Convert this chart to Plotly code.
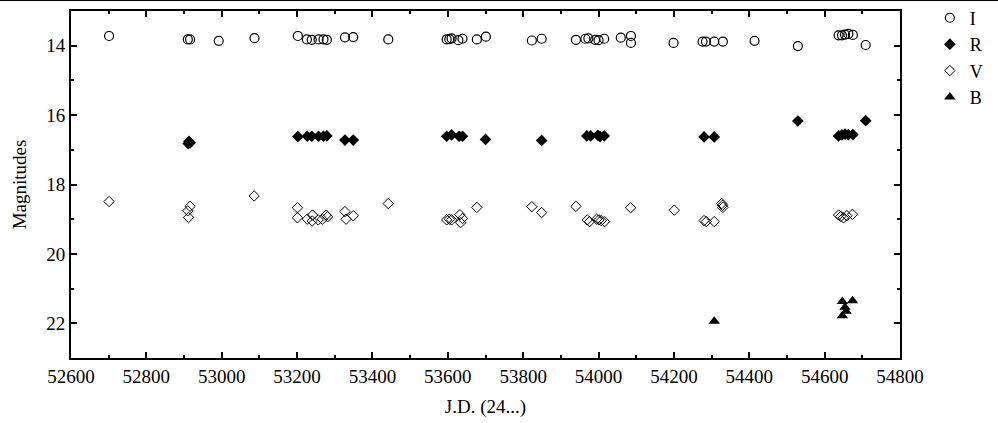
import plotly.graph_objects as go

# I band (open circles)
i_jd = [52701, 52910, 52916, 52992, 53087, 53202, 53226, 53239, 53257, 53270, 53279,
        53327, 53349, 53442, 53597, 53604, 53610, 53628, 53639, 53677, 53701,
        53823, 53849, 53940, 53965, 53973, 53991, 54000, 54015, 54059, 54086, 54086,
        54199, 54276, 54285, 54307, 54330, 54414, 54529,
        54637, 54646, 54654, 54663, 54675, 54709]
i_mag = [13.72, 13.82, 13.82, 13.86, 13.78, 13.72, 13.82, 13.83, 13.82, 13.82, 13.83,
         13.76, 13.75, 13.82, 13.82, 13.81, 13.79, 13.84, 13.80, 13.82, 13.74,
         13.85, 13.80, 13.83, 13.80, 13.79, 13.83, 13.84, 13.80, 13.77, 13.72, 13.92,
         13.92, 13.88, 13.88, 13.88, 13.88, 13.86, 14.01,
         13.70, 13.70, 13.68, 13.66, 13.69, 13.98]

# R band (filled diamonds)
r_jd = [52911, 52913, 52916, 53202, 53227, 53239, 53257, 53270, 53279, 53327, 53349,
        53597, 53610, 53630, 53639, 53700, 53849,
        53969, 53979, 53998, 54004, 54015, 54280, 54307, 54529,
        54637, 54646, 54654, 54663, 54675, 54709]
r_mag = [16.82, 16.76, 16.80, 16.62, 16.61, 16.61, 16.61, 16.61, 16.60, 16.72, 16.72,
         16.61, 16.57, 16.61, 16.61, 16.70, 16.73,
         16.60, 16.60, 16.58, 16.62, 16.60, 16.63, 16.63, 16.17,
         16.60, 16.57, 16.55, 16.56, 16.56, 16.16]

# V band (open diamonds)
v_jd = [52701, 52910, 52912, 52916, 53086, 53201, 53201,
        53227, 53240, 53241, 53256, 53267, 53277, 53281, 53327, 53330, 53349, 53442,
        53597, 53604, 53610, 53632, 53634, 53639, 53677,
        53823, 53849, 53940, 53970, 53976, 53995, 54001, 54007, 54016, 54085, 54201,
        54280, 54286, 54307, 54327, 54329, 54330,
        54637, 54643, 54650, 54659, 54674]
v_mag = [18.49, 18.76, 18.95, 18.63, 18.33, 18.67, 18.96,
         19.00, 19.05, 18.88, 19.02, 19.00, 18.88, 18.93, 18.78, 19.00, 18.90, 18.55,
         19.02, 19.00, 19.02, 18.87, 19.10, 18.98, 18.66,
         18.64, 18.81, 18.63, 19.02, 19.07, 19.00, 19.02, 19.04, 19.07, 18.67, 18.74,
         19.04, 19.07, 19.07, 18.55, 18.60, 18.66,
         18.88, 18.92, 18.96, 18.90, 18.86]

# B band (filled triangles)
b_jd = [54307, 54647, 54654, 54657, 54647, 54674]
b_mag = [21.94, 21.37, 21.54, 21.65, 21.78, 21.35]

FONT = "Liberation Serif, Times New Roman, DejaVu Serif, serif"

fig = go.Figure()
fig.add_trace(go.Scatter(x=i_jd, y=i_mag, mode="markers", name="I",
                         marker=dict(symbol="circle-open", size=9, color="black",
                                     line=dict(width=1.2, color="black"))))
fig.add_trace(go.Scatter(x=r_jd, y=r_mag, mode="markers", name="R",
                         marker=dict(symbol="diamond", size=9, color="black")))
fig.add_trace(go.Scatter(x=v_jd, y=v_mag, mode="markers", name="V",
                         marker=dict(symbol="diamond-open", size=8, color="black",
                                     line=dict(width=1, color="black"))))
fig.add_trace(go.Scatter(x=b_jd, y=b_mag, mode="markers", name="B",
                         marker=dict(symbol="triangle-up", size=10, color="black")))

axis_common = dict(showline=True, linecolor="black", linewidth=2, mirror="ticks",
                   ticks="inside", ticklen=6, tickwidth=1.5, tickcolor="black",
                   showgrid=False, zeroline=False, tickformat="d",
                   tickfont=dict(family=FONT, size=19, color="black"),
                   minor=dict(ticks="inside", ticklen=3, tickwidth=1.5, tickcolor="black"))

fig.update_xaxes(range=[52600, 54800], dtick=200, tick0=52600,
                 title=dict(text="J.D. (24...)", font=dict(family=FONT, size=19, color="black"),
                            standoff=14),
                 minor_dtick=100, **axis_common)
fig.update_yaxes(range=[23, 13], dtick=2, tick0=14,
                 title=dict(text="Magnitudes", font=dict(family=FONT, size=19, color="black"),
                            standoff=15),
                 minor_dtick=1, **axis_common)

fig.add_shape(type="line", xref="paper", yref="paper", x0=-0.2, x1=1.3, y0=1.031, y1=1.031,
              line=dict(color="black", width=1.5))

fig.update_layout(
    width=998, height=423,
    margin=dict(l=71, r=98, t=11, b=65, autoexpand=False),
    paper_bgcolor="white", plot_bgcolor="white",
    font=dict(family=FONT, size=19, color="black"),
    legend=dict(x=1.036, y=1.033, xanchor="left", yanchor="top",
                font=dict(family=FONT, size=18, color="black"),
                tracegroupgap=0, itemsizing="trace", bgcolor="rgba(0,0,0,0)"),
    showlegend=True,
)

fig.write_html("out.html", config={"displayModeBar": False},
               post_script="document.body.style.margin='0';document.body.style.overflow='hidden';")
